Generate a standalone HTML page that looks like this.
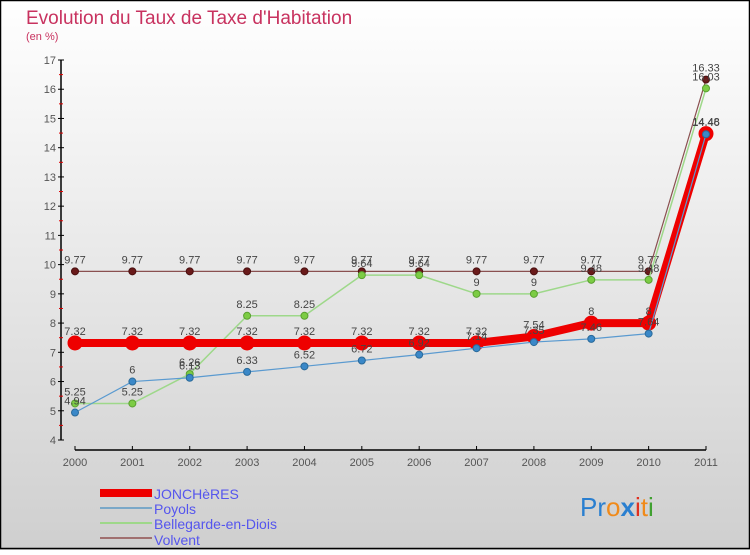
<!DOCTYPE html>
<html><head><meta charset="utf-8"><style>
html,body{margin:0;padding:0}
body{width:750px;height:550px;overflow:hidden;font-family:"Liberation Sans",sans-serif}
</style></head><body>
<svg width="750" height="550" viewBox="0 0 750 550" xmlns="http://www.w3.org/2000/svg">
<defs><linearGradient id="bg" x1="0" y1="0" x2="0" y2="1"><stop offset="0" stop-color="#ffffff"/><stop offset="1" stop-color="#cfcfcf"/></linearGradient></defs>
<rect x="0" y="0" width="750" height="550" fill="url(#bg)"/>
<rect x="0.5" y="0.5" width="749" height="548" fill="none" stroke="#000" stroke-width="1.5"/>
<text x="26" y="24" font-size="19" fill="#c8325f">Evolution du Taux de Taxe d'Habitation</text>
<text x="26" y="40" font-size="11" fill="#c8325f">(en %)</text>
<g id="axes"></g>
<g id="series"></g>
<g id="legend">
<rect x="100" y="489" width="52" height="8" fill="#ee0000"/>
<text x="154" y="499" font-size="14" fill="#5555ee">JONCHèRES</text>
<rect x="100" y="507" width="52" height="2" fill="#7aa8c8"/>
<text x="154" y="514" font-size="14" fill="#5555ee">Poyols</text>
<rect x="100" y="522" width="52" height="2" fill="#9ed88a"/>
<text x="154" y="529" font-size="14" fill="#5555ee">Bellegarde-en-Diois</text>
<rect x="100" y="537" width="52" height="2" fill="#a07070"/>
<text x="154" y="545" font-size="14" fill="#5555ee">Volvent</text>
</g>
<g font-size="26" font-family="'Liberation Sans',sans-serif">
<text x="580" y="516"><tspan fill="#2a7fd0">Pr</tspan><tspan fill="#f08a1a">o</tspan><tspan fill="#2a7fd0" font-weight="bold">x</tspan><tspan fill="#e03020">i</tspan><tspan fill="#f08a1a">t</tspan><tspan fill="#40a030">i</tspan></text>
</g>
</svg>
<script>
const years=['2000','2001','2002','2003','2004','2005','2006','2007','2008','2009','2010','2011'];
const yTicks=[4,5,6,7,8,9,10,11,12,13,14,15,16,17];
const joncheres=[7.32,7.32,7.32,7.32,7.32,7.32,7.32,7.32,7.54,8,8,14.48];
const poyols=[4.94,6,6.13,6.33,6.52,6.72,6.92,7.14,7.35,7.46,7.64,14.46];
const bellegarde=[5.25,5.25,6.26,8.25,8.25,9.64,9.64,9,9,9.48,9.48,16.03];
const volvent=[9.77,9.77,9.77,9.77,9.77,9.77,9.77,9.77,9.77,9.77,9.77,16.33];
const NS='http://www.w3.org/2000/svg';
const x=i=>75+i*(631/11);
const y=v=>440-(v-4)*(380/13);
function mk(tag,attrs,parent){const e=document.createElementNS(NS,tag);for(const k in attrs)e.setAttribute(k,attrs[k]);parent.appendChild(e);return e;}
const ax=document.getElementById('axes');
let l=mk('line',{x1:61,y1:60,x2:61,y2:440,stroke:'#000','stroke-width':1.5},ax);


yTicks.forEach(v=>{
  const t=mk('line',{x1:58,x2:64,y1:y(v),y2:y(v),stroke:'#000'},ax);
  
  
  if(v<17){const m=mk('line',{x1:59,x2:63,y1:y(v+0.5),y2:y(v+0.5),stroke:'#e00000'},ax);
  
  }
  const tx=mk('text',{x:56,y:y(v)+4,'text-anchor':'end','font-size':11,fill:'#555'},ax);
  tx.textContent=v;
  
  
});
l=mk('line',{x1:75,y1:450,x2:706,y2:450,stroke:'#000','stroke-width':1.5},ax);


years.forEach((yr,i)=>{
  const t=mk('line',{x1:x(i),x2:x(i),y1:446,y2:450,stroke:'#000'},ax);
  
  
  const tx=mk('text',{x:x(i),y:466,'text-anchor':'middle','font-size':11,fill:'#555'},ax);
  tx.textContent=yr;
  
  
});
const sg=document.getElementById('series');
function series(vals,name,color,width,r,dot,stroke){
  const g=mk('g',{},sg);
  
  
  const p=mk('polyline',{points:vals.map((v,i)=>x(i)+','+y(v)).join(' '),fill:'none',stroke:color,'stroke-width':width,'stroke-linejoin':'round'},g);
  
  
  vals.forEach((v,i)=>{
    const c=mk('circle',{cx:x(i),cy:y(v),r:r,fill:dot,stroke:stroke,'stroke-width':1},g);
    
    
    const t=mk('text',{x:x(i),y:y(v)-8,'text-anchor':'middle','font-size':11,fill:'#444'},g);
    t.textContent=String(v);
    
    
  });
}
series(volvent,'volvent','#8a5050',1.2,3.5,'#6a1a1a','#4a1010');
series(bellegarde,'bellegarde','#9ed88a',1.5,3.5,'#7ccc44','#5aa030');
series(joncheres,'joncheres','#ee0000',8,7,'#ee0000','#ee0000');
series(poyols,'poyols','#5a9ad0',1.2,3.5,'#3a88c8','#2a6a9a');
</script>
</body></html>
